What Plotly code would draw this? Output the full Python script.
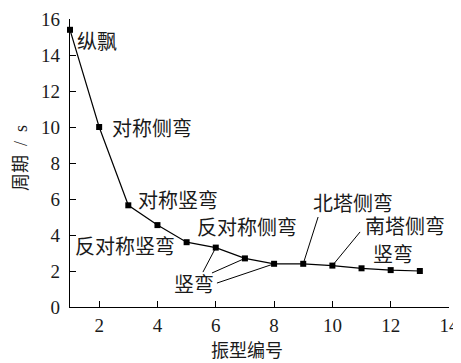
import plotly.graph_objects as go

mode_no = list(range(1, 14))
period = [15.4, 10.0, 5.65, 4.55, 3.6, 3.3, 2.7, 2.4, 2.4, 2.3, 2.15, 2.05, 2.0]

x_ticks = [2, 4, 6, 8, 10, 12, 14]
y_ticks = [0, 2, 4, 6, 8, 10, 12, 14, 16]

labels = ["纵飘", "对称侧弯", "对称竖弯", "反对称竖弯", "反对称侧弯", "竖弯", "北塔侧弯", "南塔侧弯", "竖弯"]
label_x = [1.93, 3.81, 4.70, 2.89, 7.07, 5.25, 10.71, 12.49, 12.08]
label_y = [14.83, 10.0, 6.0, 3.44, 4.5, 1.33, 5.78, 4.55, 2.98]

# leader lines: (mode index of point, tail x, tail y)
leaders = [(6, 5.56, 1.94), (7, 5.87, 1.89), (8, 6.04, 1.33), (9, 9.51, 5.0), (10, 10.95, 4.17)]

x_title = "振型编号"
y_title = "周期  /  s"

NUM_FONT = "Liberation Serif, Times New Roman, serif"
CJK_FONT = "Noto Sans CJK SC"
MIX_FONT = "Liberation Serif, Noto Sans CJK SC"
INK = "#1a1a1a"

fig = go.Figure()
fig.add_trace(go.Scatter(
    x=mode_no, y=period, mode="lines+markers",
    line=dict(color="black", width=1.2),
    marker=dict(symbol="square", size=6, color="black"),
    showlegend=False, cliponaxis=False,
))

for t, x, y in zip(labels, label_x, label_y):
    fig.add_annotation(x=x, y=y, text=t, showarrow=False,
                       font=dict(family=CJK_FONT, size=20, color=INK),
                       xanchor="center", yanchor="middle")

for idx, tx, ty in leaders:
    fig.add_shape(type="line", x0=tx, y0=ty, x1=mode_no[idx - 1], y1=period[idx - 1],
                  line=dict(color="black", width=1))

# axis titles
fig.add_annotation(xref="paper", yref="paper", x=0.467, y=0, yshift=-42,
                   text=x_title, showarrow=False, xanchor="center", yanchor="middle",
                   font=dict(family=CJK_FONT, size=18, color=INK))
fig.add_annotation(xref="paper", yref="paper", x=0, y=0.517, xshift=-49,
                   text=y_title, showarrow=False, textangle=-90,
                   xanchor="center", yanchor="middle",
                   font=dict(family=MIX_FONT, size=18, color=INK))

# page body has an 8px margin, so the figure is offset by (8, 8)
fig.update_layout(
    width=453, height=355,
    margin=dict(l=62, r=12, t=11, b=56),
    paper_bgcolor="white", plot_bgcolor="white",
    font=dict(family=NUM_FONT, size=19, color=INK),
    xaxis=dict(range=[1, 14], tickvals=x_ticks, ticks="inside", ticklen=6,
               tickcolor="black", showline=True, linecolor="black", linewidth=1.2,
               showgrid=False, zeroline=False, automargin=False,
               ticklabelstandoff=1,
               tickfont=dict(family=NUM_FONT, size=19, color=INK)),
    yaxis=dict(range=[0, 16], tickvals=y_ticks, ticks="inside", ticklen=6,
               tickcolor="black", showline=True, linecolor="black", linewidth=1.2,
               showgrid=False, zeroline=False, automargin=False,
               ticklabelstandoff=5,
               tickfont=dict(family=NUM_FONT, size=19, color=INK)),
)

fig.write_html("out.html")
